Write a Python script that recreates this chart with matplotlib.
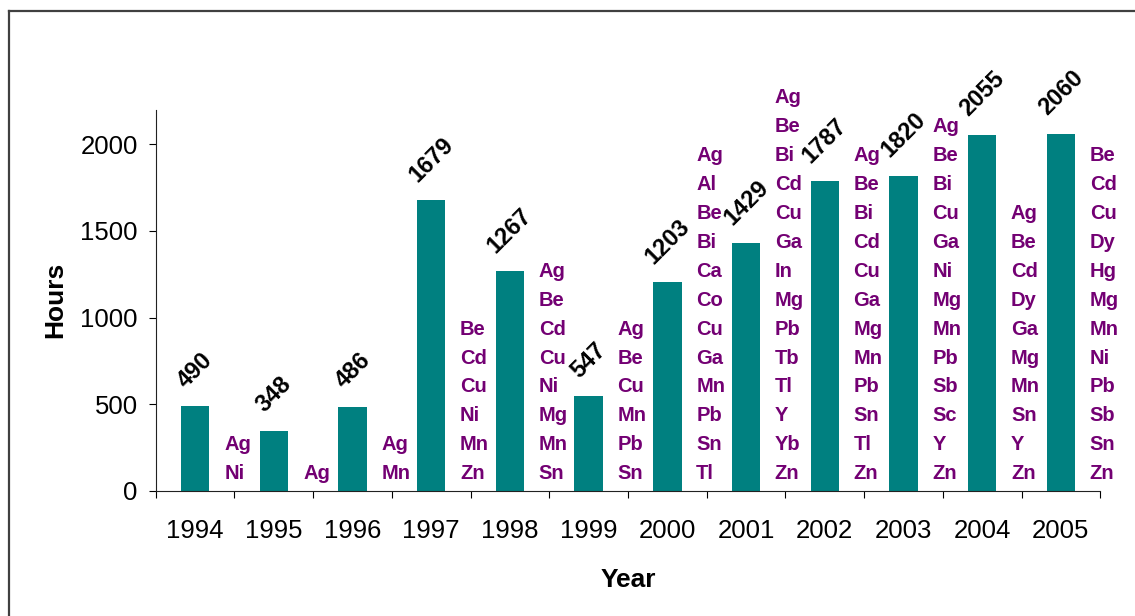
import numpy as np
import matplotlib.pyplot as plt
from matplotlib.lines import Line2D

# Datos
years = ['1994', '1995', '1996', '1997', '1998', '1999',
         '2000', '2001', '2002', '2003', '2004', '2005']
hours = [490, 348, 486, 1679, 1267, 547, 1203, 1429, 1787, 1820, 2055, 2060]
elements = [
    ['Ag', 'Ni'],
    ['Ag'],
    ['Ag', 'Mn'],
    ['Be', 'Cd', 'Cu', 'Ni', 'Mn', 'Zn'],
    ['Ag', 'Be', 'Cd', 'Cu', 'Ni', 'Mg', 'Mn', 'Sn'],
    ['Ag', 'Be', 'Cu', 'Mn', 'Pb', 'Sn'],
    ['Ag', 'Al', 'Be', 'Bi', 'Ca', 'Co', 'Cu', 'Ga', 'Mn', 'Pb', 'Sn', 'Tl'],
    ['Ag', 'Be', 'Bi', 'Cd', 'Cu', 'Ga', 'In', 'Mg', 'Pb', 'Tb', 'Tl', 'Y', 'Yb', 'Zn'],
    ['Ag', 'Be', 'Bi', 'Cd', 'Cu', 'Ga', 'Mg', 'Mn', 'Pb', 'Sn', 'Tl', 'Zn'],
    ['Ag', 'Be', 'Bi', 'Cu', 'Ga', 'Ni', 'Mg', 'Mn', 'Pb', 'Sb', 'Sc', 'Y', 'Zn'],
    ['Ag', 'Be', 'Cd', 'Dy', 'Ga', 'Mg', 'Mn', 'Sn', 'Y', 'Zn'],
    ['Be', 'Cd', 'Cu', 'Dy', 'Hg', 'Mg', 'Mn', 'Ni', 'Pb', 'Sb', 'Sn', 'Zn'],
]

plt.rcParams['font.family'] = ['Liberation Sans', 'DejaVu Sans']

fig = plt.figure(figsize=(11.35, 6.16), dpi=100)
ax = fig.add_axes([0.1372, 0.203, 0.8322, 0.619])

x = np.arange(len(years))
bars = ax.bar(x, hours, width=0.36, color='#008080')

# Etiquetas de valores (rotadas)
for xi, h in zip(x, hours):
    ax.annotate(str(h), (xi, h), xytext=(0, 10), textcoords='offset points',
                ha='center', va='bottom', rotation=45, fontsize=17,
                fontweight='bold', color='black')

# Listas de elementos
for xi, el in zip(x, elements):
    ax.text(xi + 0.55, 45, '\n'.join(el), ha='center', va='bottom',
            multialignment='left', fontsize=14.5, fontweight='bold',
            color='#730073', linespacing=1.66)

ax.set_xlim(-0.5, len(years) - 0.5)
ax.set_ylim(0, 2200)
ax.set_yticks([0, 500, 1000, 1500, 2000])

# Marcas entre categorías
ax.set_xticks(np.arange(-0.5, len(years), 1.0))
ax.set_xticklabels([])
ax.set_xticks(x, minor=True)
ax.set_xticklabels(years, minor=True)
ax.tick_params(axis='x', which='minor', length=0, pad=20, labelsize=18.5)
ax.tick_params(axis='x', which='major', length=5, direction='out')
ax.tick_params(axis='y', length=5, direction='out', labelsize=18.5, pad=8)

ax.spines['top'].set_visible(False)
ax.spines['right'].set_visible(False)
ax.spines['left'].set_color('#222222')
ax.spines['bottom'].set_color('#222222')

ax.set_xlabel('Year', fontsize=19, fontweight='bold', labelpad=18)
ax.set_ylabel('Hours', fontsize=19, fontweight='bold', labelpad=9)

# Marco del gráfico
fig.add_artist(Line2D([9 / 1135, 1.0], [1 - 11 / 616, 1 - 11 / 616],
                      transform=fig.transFigure, color='#404040', linewidth=1.6))
fig.add_artist(Line2D([9 / 1135, 9 / 1135], [0.0, 1 - 11 / 616],
                      transform=fig.transFigure, color='#404040', linewidth=1.6))

fig.savefig('out.png', dpi=100)
